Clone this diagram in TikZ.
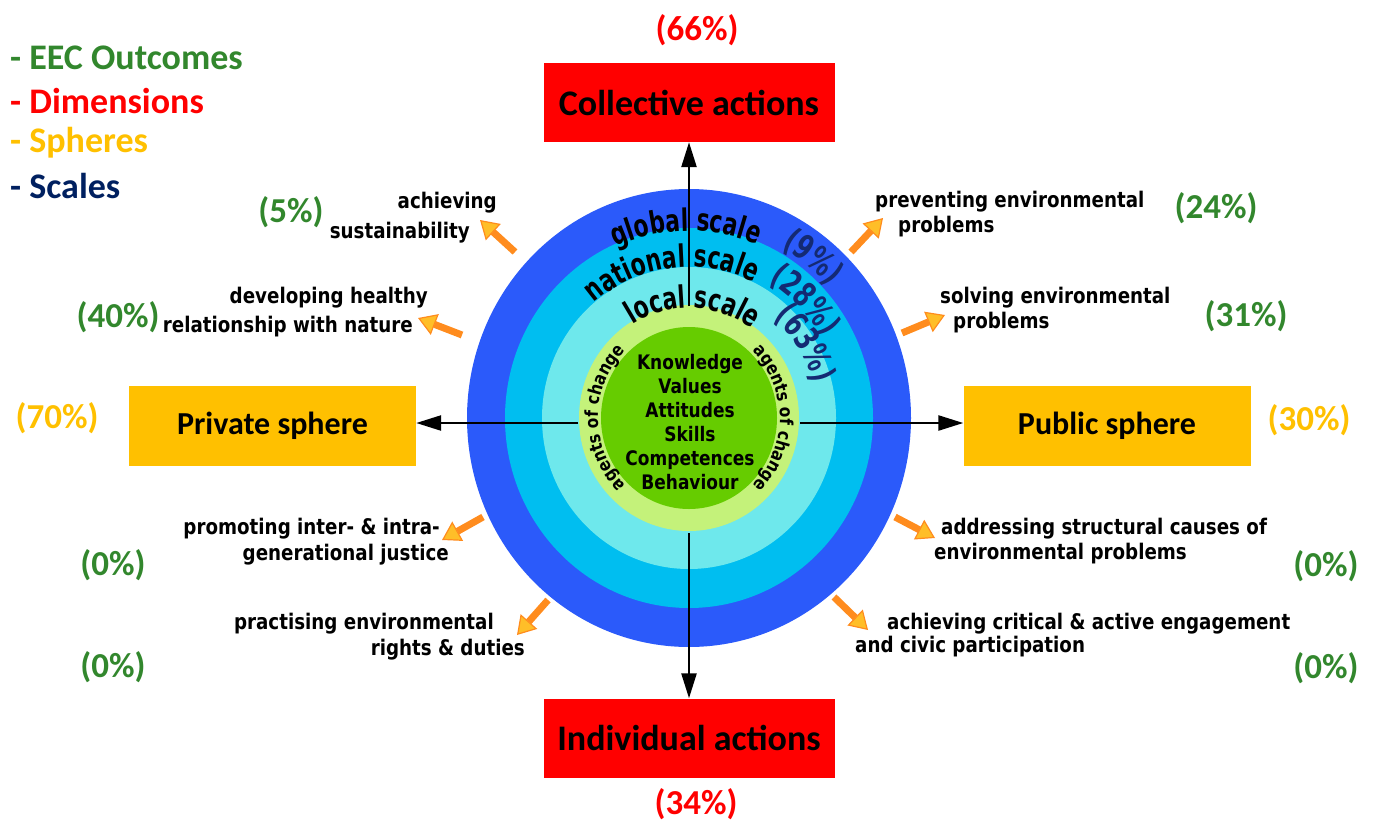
\documentclass[tikz,border=0pt]{standalone}
\usepackage{fontspec}
\setmainfont{Carlito}
\newfontfamily\labelfont[FakeStretch=0.85]{DejaVu Sans}
\newfontfamily\pctfont[FakeStretch=0.7]{DejaVu Sans}
\usetikzlibrary{arrows.meta,decorations.text}

\definecolor{eecgreen}{RGB}{50,135,45}
\definecolor{dimred}{RGB}{255,0,0}
\definecolor{sphyellow}{RGB}{255,192,0}
\definecolor{scalenavy}{RGB}{0,32,96}
\definecolor{ringnavy}{RGB}{20,42,115}
\definecolor{ringdark}{RGB}{43,90,250}
\definecolor{ringmid}{RGB}{0,190,240}
\definecolor{ringlight}{RGB}{110,232,236}
\definecolor{ringpale}{RGB}{196,242,122}
\definecolor{corefill}{RGB}{102,204,0}
\definecolor{arrorange}{RGB}{255,140,30}
\definecolor{arrhead}{RGB}{255,190,40}

\tikzset{
  dimbox/.style={fill=dimred, minimum width=291pt, minimum height=79pt, inner sep=0pt,
    font=\fontsize{36}{40}\selectfont\bfseries},
  sphbox/.style={fill=sphyellow, minimum width=287pt, minimum height=80pt, inner sep=0pt,
    font=\fontsize{32}{36}\selectfont\bfseries},
  legend/.style={anchor=west, inner sep=0pt, font=\fontsize{36}{40}\selectfont\bfseries},
  pct/.style={inner sep=0pt, font=\fontsize{35}{38}\selectfont\bfseries},
  outleft/.style={anchor=east, inner sep=0pt, font=\labelfont\bfseries\fontsize{21.5}{26}\selectfont},
  outright/.style={anchor=west, inner sep=0pt, font=\labelfont\bfseries\fontsize{21.5}{26}\selectfont},
  axis/.style={line width=2.5pt, -{Triangle[length=25pt,width=15pt]}},
  outarrow/.style={line width=7pt, draw=arrorange,
    -{Triangle[length=18pt,width=22pt,line width=1.2pt,fill=arrhead]}},
}

\begin{document}
\begin{tikzpicture}[x=1pt,y=1pt]
  \useasboundingbox (0,0) rectangle (1373,-822);

  \coordinate (c) at (689,-418);

  % rings
  \fill[ringdark]  (c) ellipse [x radius=222pt, y radius=229pt];
  \fill[ringmid]   (c) ellipse [x radius=184pt, y radius=190pt];
  \fill[ringlight] (c) ellipse [x radius=147pt, y radius=151pt];
  \fill[ringpale]  (c) ellipse [x radius=110pt, y radius=113pt];
  \fill[corefill]  (c) ellipse [x radius=88pt,  y radius=91pt];

  % scales
  \path[decorate, decoration={text along path, text align=center,
      text={|\pctfont\bfseries\fontsize{31}{31}\selectfont|global scale}}]
    ([shift={(151:182pt and 187pt)}]c) arc [start angle=151, end angle=31, x radius=182pt, y radius=187pt];
  \path[decorate, decoration={text along path, text align=center,
      text={|\pctfont\bfseries\fontsize{31}{31}\selectfont|national scale}}]
    ([shift={(157:147pt and 151pt)}]c) arc [start angle=157, end angle=37, x radius=147pt, y radius=151pt];
  \path[decorate, decoration={text along path, text align=center,
      text={|\pctfont\bfseries\fontsize{31}{31}\selectfont|local scale}}]
    ([shift={(148:107pt and 110pt)}]c) arc [start angle=148, end angle=28, x radius=107pt, y radius=110pt];

  \path[decorate, decoration={text along path, text align=center, text color=ringnavy,
      text={|\pctfont\bfseries\fontsize{34}{34}\selectfont|(9{\%})}}]
    ([shift={(92:190pt and 195pt)}]c) arc [start angle=92, end angle=12, x radius=190pt, y radius=195pt];
  \path[decorate, decoration={text along path, text align=center, text color=ringnavy,
      text={|\pctfont\bfseries\fontsize{34}{34}\selectfont|(28{\%})}}]
    ([shift={(85:154pt and 159pt)}]c) arc [start angle=85, end angle=5, x radius=154pt, y radius=159pt];
  \path[decorate, decoration={text along path, text align=center, text color=ringnavy,
      text={|\pctfont\bfseries\fontsize{34}{34}\selectfont|(63{\%})}}]
    ([shift={(72:129pt and 133pt)}]c) arc [start angle=72, end angle=-8, x radius=129pt, y radius=133pt];

  % agents of change
  \path[decorate, decoration={text along path, text align=center,
      text={|\labelfont\bfseries\fontsize{18}{18}\selectfont|agents of change}}]
    ([shift={(250:91pt and 94pt)}]c) arc [start angle=250, end angle=110, x radius=91pt, y radius=94pt];
  \path[decorate, decoration={text along path, text align=center,
      text={|\labelfont\bfseries\fontsize{18}{18}\selectfont|agents of change}}]
    ([shift={(70:91pt and 94pt)}]c) arc [start angle=70, end angle=-70, x radius=91pt, y radius=94pt];

  \node[align=center, inner sep=0pt, font=\labelfont\bfseries\fontsize{20}{24}\selectfont] (core)
    at (690,-422) {Knowledge\\Values\\Attitudes\\Skills\\Competences\\Behaviour};

  % dimensions and spheres
  \node[dimbox] (coll)  at (689,-102.5) {Collective actions};
  \node[dimbox] (indiv) at (689,-738)   {Individual actions};
  \node[sphbox] (priv)  at (272.5,-426) {Private sphere};
  \node[sphbox] (publ)  at (1107,-426)  {Public sphere};

  \coordinate (ctop)   at (689,-306);
  \coordinate (cbot)   at (689,-533);
  \coordinate (cleft)  at (578,-423);
  \coordinate (cright) at (800,-423);

  \draw[axis] (ctop) -- (coll.south);
  \draw[axis] (cbot) -- (indiv.north);
  \draw[axis] (cleft) -- (cleft -| priv.east);
  \draw[axis] (cright) -- (cright -| publ.west);

  \node[pct, text=dimred]    (p66) at (697,-30)   {(66\%)};
  \node[pct, text=dimred]    (p34) at (696,-804)  {(34\%)};
  \node[pct, text=sphyellow] (p70) at (57,-418)   {(70\%)};
  \node[pct, text=sphyellow] (p30) at (1309,-420) {(30\%)};

  % legend
  \node[legend, text=eecgreen]  (lgout)   at (10,-58)  {- EEC Outcomes};
  \node[legend, text=dimred]    (lgdim)   at (10,-101) {- Dimensions};
  \node[legend, text=sphyellow] (lgsph)   at (10,-143) {- Spheres};
  \node[legend, text=scalenavy] (lgscale) at (10,-186) {- Scales};

  % outcomes
  \node[outleft]  (sust1) at (497,-203) {achieving};
  \node[outleft]  (sust2) at (470,-233) {sustainability};
  \node[outleft]  (heal1) at (428,-298) {developing healthy};
  \node[outleft]  (heal2) at (413,-327) {relationship with nature};
  \node[outright] (prev1) at (875,-202) {preventing environmental};
  \node[outright] (prev2) at (898,-227) {problems};
  \node[outright] (solv1) at (940,-298) {solving environmental};
  \node[outright] (solv2) at (953,-323) {problems};
  \node[outleft]  (just1) at (440,-529) {promoting inter- \& intra-};
  \node[outleft]  (just2) at (449,-555) {generational justice};
  \node[outleft]  (righ1) at (494,-624) {practising environmental};
  \node[outleft]  (righ2) at (525,-650) {rights \& duties};
  \node[outright] (caus1) at (941,-529) {addressing structural causes of};
  \node[outright] (caus2) at (934,-554) {environmental problems};
  \node[outright] (enga1) at (887,-624) {achieving critical \& active engagement};
  \node[outright] (enga2) at (855,-647) {and civic participation};

  \node[pct, text=eecgreen] (p5)   at (291,-212)  {(5\%)};
  \node[pct, text=eecgreen] (p40)  at (118,-317)  {(40\%)};
  \node[pct, text=eecgreen] (p24)  at (1216,-208) {(24\%)};
  \node[pct, text=eecgreen] (p31)  at (1246,-316) {(31\%)};
  \node[pct, text=eecgreen] (p0a)  at (113,-565)  {(0\%)};
  \node[pct, text=eecgreen] (p0b)  at (113,-667)  {(0\%)};
  \node[pct, text=eecgreen] (p0c)  at (1326,-566) {(0\%)};
  \node[pct, text=eecgreen] (p0d)  at (1326,-668) {(0\%)};

  % outcome arrows
  \coordinate (sust-s) at (515,-252); \coordinate (sust-e) at (480,-220);
  \coordinate (heal-s) at (462,-335); \coordinate (heal-e) at (418,-318);
  \coordinate (prev-s) at (851,-252); \coordinate (prev-e) at (883,-218);
  \coordinate (solv-s) at (902,-333); \coordinate (solv-e) at (945,-315);
  \coordinate (just-s) at (483,-517); \coordinate (just-e) at (442,-540);
  \coordinate (righ-s) at (548,-600); \coordinate (righ-e) at (517,-635);
  \coordinate (caus-s) at (895,-517); \coordinate (caus-e) at (935,-538);
  \coordinate (enga-s) at (834,-597); \coordinate (enga-e) at (868,-630);
  \foreach \o in {sust,heal,prev,solv,just,righ,caus,enga}
    \draw[outarrow] (\o-s) -- (\o-e);

\end{tikzpicture}
\end{document}
